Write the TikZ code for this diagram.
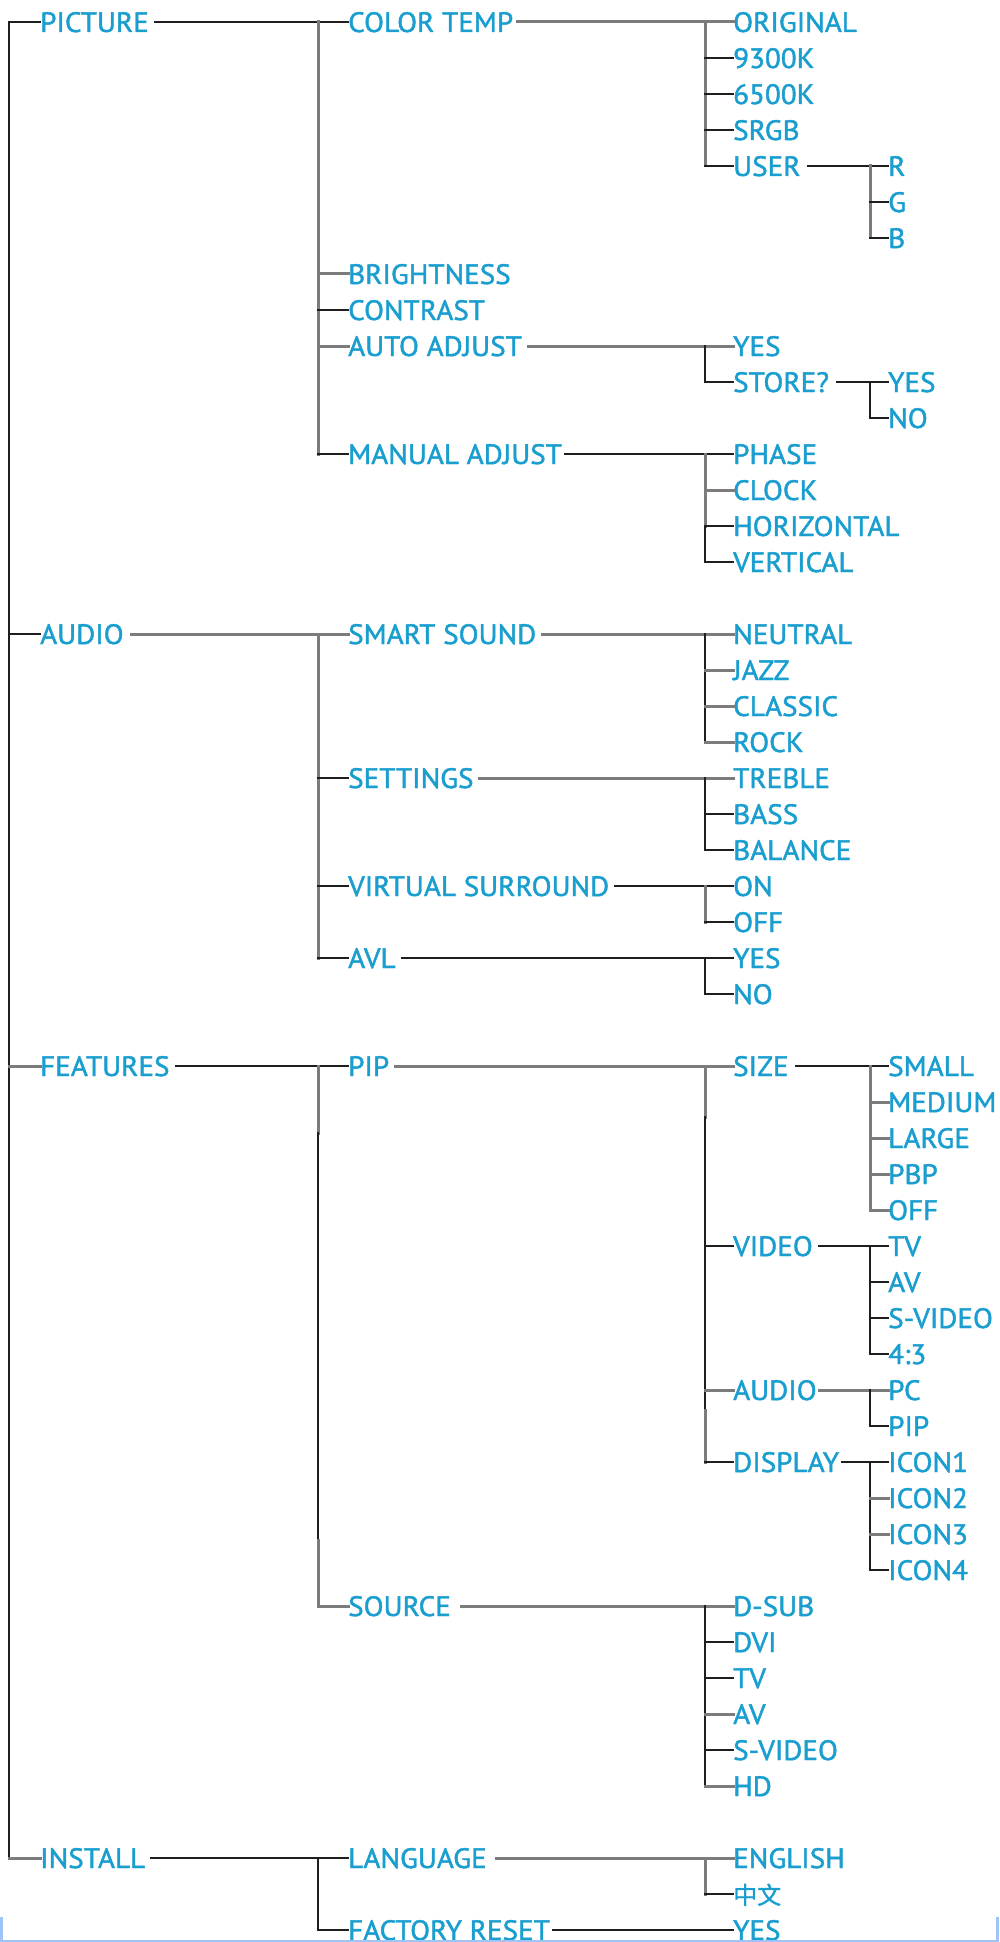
\documentclass[tikz,border=0pt]{standalone}
\usepackage{fontspec}
\setmainfont{PT Sans}[FakeBold=1.6,FakeStretch=1.04]
\newfontfamily\cjk{Noto Sans CJK SC}[FakeBold=1.2]
\definecolor{txt}{HTML}{1A9ECF}
\definecolor{gl}{HTML}{7C7C7C}
\definecolor{bl}{HTML}{1E1E1E}
\definecolor{framec}{HTML}{A0C4F8}
\begin{document}
\begin{tikzpicture}[x=1pt,y=-1pt,
 lab/.style={anchor=west, inner sep=0pt, text=txt, font=\fontsize{28}{28}\selectfont, text height=20pt, text depth=0pt},
 bk/.style={draw=bl, line width=1.8pt, line cap=rect},
 gy/.style={draw=gl, line width=3pt, line cap=rect},
]
\useasboundingbox (0,0) rectangle (999,1942);
\clip (0,0) rectangle (999,1942);
% level 0
\node[lab] (picture) at (40,22) {PICTURE};
\node[lab] (audio) at (40,634) {AUDIO};
\node[lab] (features) at (40,1066) {FEATURES};
\node[lab] (install) at (40,1858) {INSTALL};
% level 1
\node[lab] (colortemp) at (348,22) {COLOR TEMP};
\node[lab] (brightness) at (348,274) {BRIGHTNESS};
\node[lab] (contrast) at (348,310) {CONTRAST};
\node[lab] (autoadj) at (348,346) {AUTO ADJUST};
\node[lab] (manadj) at (348,454) {MANUAL ADJUST};
\node[lab] (smartsound) at (348,634) {SMART SOUND};
\node[lab] (settings) at (348,778) {SETTINGS};
\node[lab] (vsurround) at (348,886) {VIRTUAL SURROUND};
\node[lab] (avl) at (348,958) {AVL};
\node[lab] (pip) at (348,1066) {PIP};
\node[lab] (source) at (348,1606) {SOURCE};
\node[lab] (language) at (348,1858) {LANGUAGE};
\node[lab] (factory) at (348,1930) {FACTORY RESET};
% level 2
\node[lab] (original) at (733,22) {ORIGINAL};
\node[lab] (k93) at (733,58) {9300K};
\node[lab] (k65) at (733,94) {6500K};
\node[lab] (srgb) at (733,130) {SRGB};
\node[lab] (user) at (733,166) {USER};
\node[lab] (aayes) at (733,346) {YES};
\node[lab] (store) at (733,382) {STORE?};
\node[lab] (phase) at (733,454) {PHASE};
\node[lab] (clock) at (733,490) {CLOCK};
\node[lab] (horiz) at (733,526) {HORIZONTAL};
\node[lab] (vert) at (733,562) {VERTICAL};
\node[lab] (neutral) at (733,634) {NEUTRAL};
\node[lab] (jazz) at (733,670) {JAZZ};
\node[lab] (classic) at (733,706) {CLASSIC};
\node[lab] (rock) at (733,742) {ROCK};
\node[lab] (treble) at (733,778) {TREBLE};
\node[lab] (bass) at (733,814) {BASS};
\node[lab] (balance) at (733,850) {BALANCE};
\node[lab] (on) at (733,886) {ON};
\node[lab] (off) at (733,922) {OFF};
\node[lab] (avlyes) at (733,958) {YES};
\node[lab] (avlno) at (733,994) {NO};
\node[lab] (size) at (733,1066) {SIZE};
\node[lab] (video) at (733,1246) {VIDEO};
\node[lab] (paudio) at (733,1390) {AUDIO};
\node[lab] (display) at (733,1462) {DISPLAY};
\node[lab] (dsub) at (733,1606) {D-SUB};
\node[lab] (dvi) at (733,1642) {DVI};
\node[lab] (stv) at (733,1678) {TV};
\node[lab] (sav) at (733,1714) {AV};
\node[lab] (ssvideo) at (733,1750) {S-VIDEO};
\node[lab] (hd) at (733,1786) {HD};
\node[lab] (english) at (733,1858) {ENGLISH};
\node[lab, font=\cjk\fontsize{24}{24}\selectfont] (chinese) at (733,1894) {中文};
\node[lab] (fryes) at (733,1930) {YES};
% level 3
\node[lab] (r) at (888,166) {R};
\node[lab] (g) at (888,202) {G};
\node[lab] (b) at (888,238) {B};
\node[lab] (styes) at (888,382) {YES};
\node[lab] (stno) at (888,418) {NO};
\node[lab] (small) at (888,1066) {SMALL};
\node[lab] (medium) at (888,1102) {MEDIUM};
\node[lab] (large) at (888,1138) {LARGE};
\node[lab] (pbp) at (888,1174) {PBP};
\node[lab] (soff) at (888,1210) {OFF};
\node[lab] (vtv) at (888,1246) {TV};
\node[lab] (vav) at (888,1282) {AV};
\node[lab] (vsv) at (888,1318) {S-VIDEO};
\node[lab] (v43) at (888,1354) {4:3};
\node[lab] (pc) at (888,1390) {PC};
\node[lab] (ppip) at (888,1426) {PIP};
\node[lab] (icon1) at (888,1462) {ICON1};
\node[lab] (icon2) at (888,1498) {ICON2};
\node[lab] (icon3) at (888,1534) {ICON3};
\node[lab] (icon4) at (888,1570) {ICON4};

% ---- root
\draw[bk] ([xshift=-31pt]picture.west) -- ([xshift=-31pt]install.west);
\draw[bk] ([xshift=-31pt]picture.west) -- (picture.west);
\draw[bk] ([xshift=-31pt]audio.west) -- (audio.west);
\draw[gy] ([xshift=-31pt]features.west) -- (features.west);
\draw[gy] ([xshift=-31pt]install.west) -- (install.west);

% ---- PICTURE
\draw[bk] ([xshift=6pt]picture.east) -- (colortemp.west);
\draw[gy] ([xshift=-30pt]colortemp.west) -- ([xshift=-30pt]manadj.west);
\draw[gy] ([xshift=-30pt]brightness.west) -- (brightness.west);
\draw[bk] ([xshift=-30pt]contrast.west) -- (contrast.west);
\draw[gy] ([xshift=-30pt]autoadj.west) -- (autoadj.west);
\draw[bk] ([xshift=-30pt]manadj.west) -- (manadj.west);

% COLOR TEMP
\draw[gy] ([xshift=4pt]colortemp.east) -- (original.west);
\draw[gy] ([xshift=-28pt]original.west) -- ([xshift=-28pt]user.west);
\draw[bk] ([xshift=-28pt]k93.west) -- (k93.west);
\draw[bk] ([xshift=-28pt]k65.west) -- (k65.west);
\draw[bk] ([xshift=-28pt]srgb.west) -- (srgb.west);
\draw[bk] ([xshift=-28pt]user.west) -- (user.west);
% USER
\draw[bk] ([xshift=7pt]user.east) -- (r.west);
\draw[gy] ([xshift=-18pt]r.west) -- ([xshift=-18pt]b.west);
\draw[bk] ([xshift=-18pt]g.west) -- (g.west);
\draw[bk] ([xshift=-18pt]b.west) -- (b.west);
% AUTO ADJUST
\draw[gy] ([xshift=6pt]autoadj.east) -- (aayes.west);
\draw[bk] ([xshift=-28pt]aayes.west) -- ([xshift=-28pt]store.west);
\draw[bk] ([xshift=-28pt]store.west) -- (store.west);
% STORE?
\draw[bk] ([xshift=8pt]store.east) -- (styes.west);
\draw[bk] ([xshift=-18pt]styes.west) -- ([xshift=-18pt]stno.west);
\draw[bk] ([xshift=-18pt]stno.west) -- (stno.west);
% MANUAL ADJUST
\draw[bk] ([xshift=3pt]manadj.east) -- (phase.west);
\draw[gy] ([xshift=-28pt]phase.west) -- ([xshift=-28pt]horiz.west);
\draw[bk] ([xshift=-28pt]horiz.west) -- ([xshift=-28pt]vert.west);
\draw[gy] ([xshift=-28pt]clock.west) -- (clock.west);
\draw[bk] ([xshift=-28pt]horiz.west) -- (horiz.west);
\draw[bk] ([xshift=-28pt]vert.west) -- (vert.west);

% ---- AUDIO
\draw[gy] ([xshift=8pt]audio.east) -- (smartsound.west);
\draw[gy] ([xshift=-30pt]smartsound.west) -- ([xshift=-30pt]avl.west);
\draw[bk] ([xshift=-30pt]settings.west) -- (settings.west);
\draw[bk] ([xshift=-30pt]vsurround.west) -- (vsurround.west);
\draw[bk] ([xshift=-30pt]avl.west) -- (avl.west);
% SMART SOUND
\draw[gy] ([xshift=6pt]smartsound.east) -- (neutral.west);
\draw[bk] ([xshift=-28pt]neutral.west) -- ([xshift=-28pt]rock.west);
\draw[gy] ([xshift=-28pt]jazz.west) -- (jazz.west);
\draw[gy] ([xshift=-28pt]classic.west) -- (classic.west);
\draw[gy] ([xshift=-28pt]rock.west) -- (rock.west);
% SETTINGS
\draw[gy] ([xshift=6pt]settings.east) -- (treble.west);
\draw[bk] ([xshift=-28pt]treble.west) -- ([xshift=-28pt]balance.west);
\draw[bk] ([xshift=-28pt]bass.west) -- (bass.west);
\draw[bk] ([xshift=-28pt]balance.west) -- (balance.west);
% VIRTUAL SURROUND
\draw[bk] ([xshift=6pt]vsurround.east) -- (on.west);
\draw[gy] ([xshift=-28pt]on.west) -- ([xshift=-28pt]off.west);
\draw[bk] ([xshift=-28pt]off.west) -- (off.west);
% AVL
\draw[bk] ([xshift=6pt]avl.east) -- (avlyes.west);
\draw[bk] ([xshift=-28pt]avlyes.west) -- ([xshift=-28pt]avlno.west);
\draw[bk] ([xshift=-28pt]avlno.west) -- (avlno.west);

% ---- FEATURES
\coordinate (fa) at ([xshift=-30pt,yshift=-67pt]pip.west);
\coordinate (fb) at ([xshift=-30pt,yshift=66pt]source.west);
\draw[bk] ([xshift=6pt]features.east) -- (pip.west);
\draw[gy] ([xshift=-30pt]pip.west) -- (fa);
\draw[bk] (fa) -- (fb);
\draw[gy] (fb) -- ([xshift=-30pt]source.west);
\draw[gy] ([xshift=-30pt]source.west) -- (source.west);
% PIP
\coordinate (pa) at ([xshift=-28pt,yshift=-51pt]size.west);
\coordinate (pb) at ([xshift=-28pt,yshift=52pt]display.west);
\draw[gy] ([xshift=6pt]pip.east) -- (size.west);
\draw[gy] ([xshift=-28pt]size.west) -- (pa);
\draw[bk] (pa) -- (pb);
\draw[gy] (pb) -- ([xshift=-28pt]display.west);
\draw[bk] ([xshift=-28pt]video.west) -- (video.west);
\draw[gy] ([xshift=-28pt]paudio.west) -- (paudio.west);
\draw[bk] ([xshift=-28pt]display.west) -- (display.west);
% SIZE
\draw[bk] ([xshift=7pt]size.east) -- (small.west);
\draw[gy] ([xshift=-18pt]small.west) -- ([xshift=-18pt]soff.west);
\draw[gy] ([xshift=-18pt]medium.west) -- (medium.west);
\draw[gy] ([xshift=-18pt]large.west) -- (large.west);
\draw[gy] ([xshift=-18pt]pbp.west) -- (pbp.west);
\draw[gy] ([xshift=-18pt]soff.west) -- (soff.west);
% VIDEO
\draw[bk] ([xshift=6pt]video.east) -- (vtv.west);
\draw[bk] ([xshift=-18pt]vtv.west) -- ([xshift=-18pt]v43.west);
\draw[bk] ([xshift=-18pt]vav.west) -- (vav.west);
\draw[bk] ([xshift=-18pt]vsv.west) -- (vsv.west);
\draw[bk] ([xshift=-18pt]v43.west) -- (v43.west);
% AUDIO (PIP)
\draw[gy] ([xshift=3pt]paudio.east) -- (pc.west);
\draw[bk] ([xshift=-18pt]pc.west) -- ([xshift=-18pt]ppip.west);
\draw[bk] ([xshift=-18pt]ppip.west) -- (ppip.west);
% DISPLAY
\draw[bk] ([xshift=3pt]display.east) -- (icon1.west);
\draw[bk] ([xshift=-18pt]icon1.west) -- ([xshift=-18pt]icon4.west);
\draw[gy] ([xshift=-18pt]icon2.west) -- (icon2.west);
\draw[gy] ([xshift=-18pt]icon3.west) -- (icon3.west);
\draw[bk] ([xshift=-18pt]icon4.west) -- (icon4.west);
% SOURCE
\draw[gy] ([xshift=10pt]source.east) -- (dsub.west);
\draw[bk] ([xshift=-28pt]dsub.west) -- ([xshift=-28pt]hd.west);
\draw[bk] ([xshift=-28pt]dvi.west) -- (dvi.west);
\draw[bk] ([xshift=-28pt]stv.west) -- (stv.west);
\draw[gy] ([xshift=-28pt]sav.west) -- (sav.west);
\draw[bk] ([xshift=-28pt]ssvideo.west) -- (ssvideo.west);
\draw[gy] ([xshift=-28pt]hd.west) -- (hd.west);

% ---- INSTALL
\draw[bk] ([xshift=6pt]install.east) -- (language.west);
\draw[bk] ([xshift=-30pt]language.west) -- ([xshift=-30pt]factory.west);
\draw[bk] ([xshift=-30pt]factory.west) -- (factory.west);
% LANGUAGE
\draw[gy] ([xshift=10pt]language.east) -- (english.west);
\draw[gy] ([xshift=-28pt]english.west) -- ([xshift=-28pt]chinese.west);
\draw[bk] ([xshift=-28pt]chinese.west) -- (chinese.west);
% FACTORY RESET
\draw[bk] ([xshift=3pt]factory.east) -- (fryes.west);

% bottom frame
\fill[framec] (0,1940) rectangle (999,1942);
\fill[framec] (0,1917) rectangle (3,1942);
\fill[framec] (996,1917) rectangle (999,1942);
\end{tikzpicture}
\end{document}
